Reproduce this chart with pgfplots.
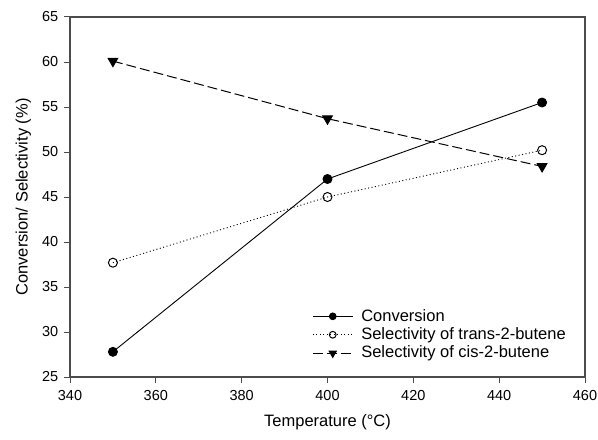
\documentclass[border=0pt]{standalone}
\usepackage{pgfplots}
\pgfplotsset{compat=1.18}
\usepackage{fontspec}
\setmainfont{Liberation Sans}
\begin{document}
\fontsize{16.5}{19}\selectfont
\begin{tikzpicture}
\begin{axis}[
  name=ax,
  scale only axis,
  width=515pt, height=360pt,
  xmin=340, xmax=460, ymin=25, ymax=65,
  xtick={340,360,...,460}, ytick={25,30,...,65},
  tick align=outside,
  major tick length=6pt,
  xtick pos=bottom, ytick pos=left,
  axis line style={black!70, line width=1.1pt},
  tick style={black!70, line width=1pt},
  /pgf/number format/assume math mode=true,
  /pgf/number format/1000 sep={},
  ticklabel style={font=\fontsize{14.5}{16}\selectfont},
  xticklabel style={yshift=-2pt},
  xlabel={Temperature (°C)},
  ylabel={Conversion/ Selectivity (\%)},
  xlabel style={font=\fontsize{16.5}{19}\selectfont, yshift=-2pt},
  ylabel style={font=\fontsize{16.5}{19}\selectfont, yshift=0pt},
  legend style={at={(0.47,0.04)}, anchor=south west, draw=none, fill=none,
    font=\fontsize{16.5}{19}\selectfont, row sep=0pt, inner sep=0pt},
  legend cell align=left,
  legend image code/.code={\begin{scope}[every mark/.append style={scale=0.75}]\draw[mark repeat=2,mark phase=2] plot coordinates {(0pt,0pt) (20pt,0pt) (40pt,0pt)};\end{scope}\path (46pt,0pt);},
]
\addplot[black, line width=0.9pt, mark=*, mark size=4.5pt, mark options={solid, fill=black}]
  coordinates {(350,27.8) (400,47.0) (450,55.5)};
\addlegendentry{Conversion}
\addplot[black, line width=0.9pt, dash pattern=on 1pt off 2.5pt, mark=o, mark size=4.5pt, mark options={solid, fill=white, line width=1pt}]
  coordinates {(350,37.7) (400,45.0) (450,50.2)};
\addlegendentry{Selectivity of trans-2-butene}
\addplot[black, line width=1pt, dash pattern=on 10pt off 4pt, mark=triangle*, mark size=5.5pt, mark options={solid, fill=black, rotate=180}]
  coordinates {(350,60.1) (400,53.7) (450,48.4)};
\addlegendentry{Selectivity of cis-2-butene}
\end{axis}
\pgfresetboundingbox
\path ([shift={(-70pt,-62pt)}]ax.south west) rectangle ([shift={(13pt,17pt)}]ax.north east);
\end{tikzpicture}
\end{document}
